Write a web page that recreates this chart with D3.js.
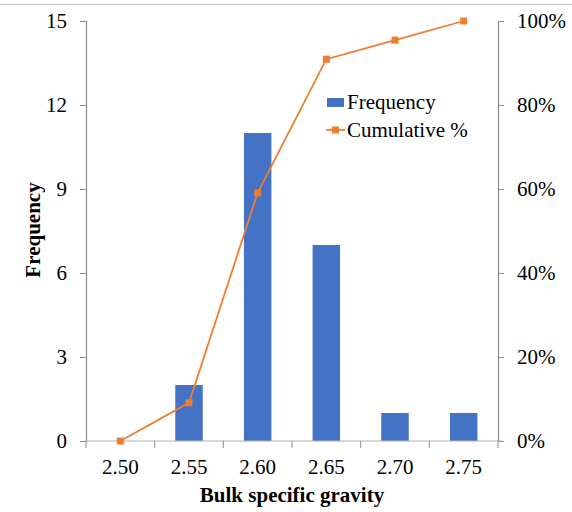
<!DOCTYPE html>
<html>
<head>
<meta charset="utf-8">
<script src="https://cdn.jsdelivr.net/npm/d3@7"></script>
<style>
  body { margin: 0; background: #fff; }
  svg text { font-family: "Liberation Serif", "Times New Roman", serif; fill: #000; }
</style>
</head>
<body>
<svg id="chart" width="572" height="512" font-family="Liberation Serif"></svg>
<script>
// Histogramme de la densité relative (bulk specific gravity)
var categories = ["2.50", "2.55", "2.60", "2.65", "2.70", "2.75"];
var frequency = [0, 2, 11, 7, 1, 1];
var cumulative = [0, 9.09, 59.09, 90.91, 95.45, 100];
var freqTicks = [0, 3, 6, 9, 12, 15];
var pctTicks = [0, 20, 40, 60, 80, 100];

var svg = d3.select("#chart");
// Bornes de la zone de tracé
var m_left = 86, m_right = 498, m_top = 21, m_bottom = 441;

// Ligne grise en haut de la figure
svg.append("line")
    .attr("x1", 0).attr("x2", 572)
    .attr("y1", 4.5).attr("y2", 4.5)
    .attr("stroke", "#c8c8c8").attr("stroke-width", 1);

var x = d3.scaleBand().domain(categories).range([m_left, m_right]).paddingInner(0.6).paddingOuter(0.3);
var y = d3.scaleLinear().domain([0, 15]).range([m_bottom, m_top]);
var y2 = d3.scaleLinear().domain([0, 100]).range([m_bottom, m_top]);

// Barres
svg.selectAll(".bar")
    .data(frequency)
    .enter()
    .append("rect")
    .attr("class", "bar")
    .attr("x", (d, i) => x(categories[i]))
    .attr("y", d => y(d))
    .attr("width", x.bandwidth())
    .attr("height", d => m_bottom - y(d))
    .attr("fill", "#4472C4");

// Axe gauche
var axisLeft = svg.append("g")
    .attr("transform", `translate(${m_left},0)`)
    .call(d3.axisLeft(y).tickValues(freqTicks).tickSize(6).tickPadding(13));

// Axe droit
var axisRight = svg.append("g")
    .attr("transform", `translate(${m_right},0)`)
    .call(d3.axisRight(y2).tickValues(pctTicks).tickSize(6).tickPadding(13).tickFormat(d => d + "%"));

// Axe du bas (ticks aux bords des catégories)
var axisBottom = svg.append("g")
    .attr("transform", `translate(0,${m_bottom})`)
    .call(d3.axisBottom(x).tickSize(0).tickPadding(18));

var step = x.step();
svg.append("g").selectAll("line")
    .data(d3.range(categories.length + 1))
    .enter()
    .append("line")
    .attr("x1", i => m_left + i * step)
    .attr("x2", i => m_left + i * step)
    .attr("y1", m_bottom)
    .attr("y2", m_bottom + 7)
    .attr("stroke", "#8c8c8c");

[axisLeft, axisRight, axisBottom].forEach(g => {
    g.select(".domain").attr("stroke", "#8c8c8c").attr("stroke-width", 1.2);
    g.selectAll(".tick line").attr("stroke", "#8c8c8c");
    g.selectAll("text").attr("font-size", "21px").attr("font-family", "Liberation Serif").attr("fill", "#000");
});
axisBottom.select(".domain").attr("stroke", "#b0b0b0").attr("d", `M${m_left},0H${m_right + 4}`);

// Courbe cumulative
var line = d3.line()
    .x((d, i) => m_left + step * (i + 0.5))
    .y(d => y2(d));

svg.append("path")
    .datum(cumulative)
    .attr("d", line)
    .attr("fill", "none")
    .attr("stroke", "#ED7D31")
    .attr("stroke-width", 1.8);

svg.selectAll(".marker")
    .data(cumulative)
    .enter()
    .append("rect")
    .attr("class", "marker")
    .attr("x", (d, i) => m_left + step * (i + 0.5) - 3.5)
    .attr("y", d => y2(d) - 3.5)
    .attr("width", 7)
    .attr("height", 7)
    .attr("fill", "#ED7D31");

// Titres des axes
svg.append("text")
    .attr("x", (m_left + m_right) / 2)
    .attr("y", 502)
    .attr("text-anchor", "middle")
    .attr("font-size", "21px")
    .attr("font-weight", "bold")
    .text("Bulk specific gravity");

svg.append("text")
    .attr("transform", "translate(40,230) rotate(-90)")
    .attr("text-anchor", "middle")
    .attr("font-size", "21px")
    .attr("font-weight", "bold")
    .text("Frequency");

// Légende
var legend = svg.append("g");
legend.append("rect")
    .attr("x", 327).attr("y", 98)
    .attr("width", 17).attr("height", 9)
    .attr("fill", "#4472C4");
legend.append("text")
    .attr("x", 347).attr("y", 109)
    .attr("font-size", "21px")
    .text("Frequency");
legend.append("line")
    .attr("x1", 326).attr("x2", 345)
    .attr("y1", 130).attr("y2", 130)
    .attr("stroke", "#ED7D31").attr("stroke-width", 1.8);
legend.append("rect")
    .attr("x", 332).attr("y", 126.5)
    .attr("width", 7).attr("height", 7)
    .attr("fill", "#ED7D31");
legend.append("text")
    .attr("x", 347).attr("y", 137)
    .attr("font-size", "21px")
    .text("Cumulative %");
</script>
</body>
</html>
